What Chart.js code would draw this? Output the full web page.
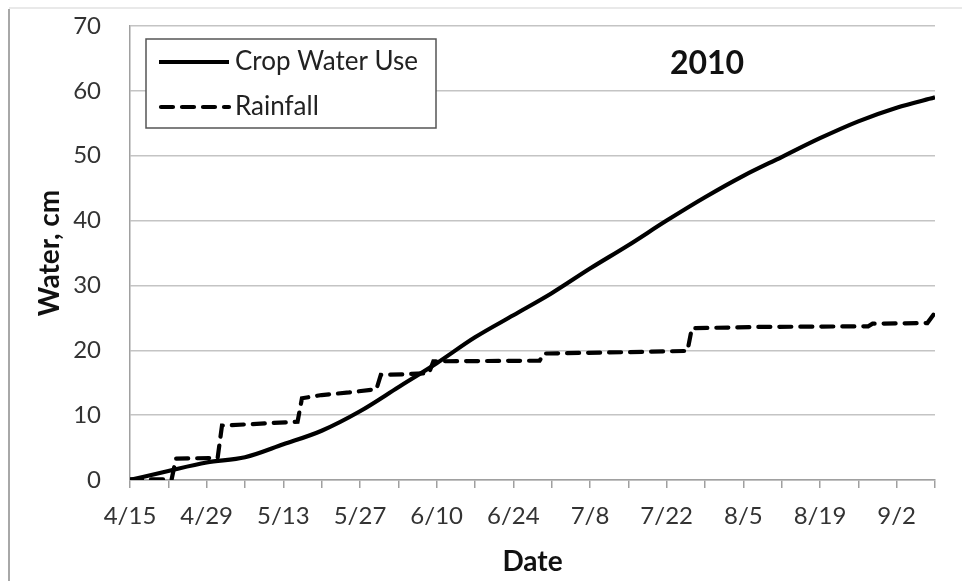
<!DOCTYPE html>
<html>
<head>
<meta charset="utf-8">
<script src="https://cdn.jsdelivr.net/npm/chart.js@4/dist/chart.umd.min.js"></script>
<style>
  html, body { margin: 0; padding: 0; background: #fff; }
  #wrap { position: relative; width: 962px; height: 581px; }
</style>
</head>
<body>
<div id="wrap"><canvas id="c" width="962" height="581"></canvas></div>
<script>
// ---- data (days after 4/15) ----
const dateLabels = ['4/15','4/29','5/13','5/27','6/10','6/24','7/8','7/22','8/5','8/19','9/2'];
const cropDays   = [0, 7, 14, 21, 28, 35, 42, 49, 56, 63, 70, 77, 84, 91, 98, 105, 112, 119, 126, 133, 140, 147];
const cropValues = [0, 1.4, 2.7, 3.5, 5.5, 7.6, 10.6, 14.3, 18.0, 22.0, 25.4, 28.8, 32.6, 36.2, 40.0, 43.6, 46.9, 49.8, 52.7, 55.3, 57.4, 59.0];
const rainDays   = [0, 7.6, 8.4, 16.0, 16.8, 22, 30.6, 31.4, 35, 40, 45.0, 45.8, 50, 54.6, 55.4, 74.8, 75.6, 90, 101.8, 102.6, 115, 134.8, 135.6, 145.6, 147];
const rainValues = [0.1, 0.1, 3.3, 3.4, 8.4, 8.6, 9.0, 12.6, 13.1, 13.5, 14.0, 16.2, 16.3, 16.5, 18.3, 18.4, 19.5, 19.7, 19.9, 23.4, 23.6, 23.7, 24.1, 24.2, 25.8];
const seriesNames = ['Crop Water Use', 'Rainfall'];
const yearLabel = '2010';

const toXY = (xs, ys) => xs.map((x, i) => ({ x: x, y: ys[i] }));
const DASH = [12, 9];

const decor = {
  id: 'decor',
  beforeDraw(chart) {
    const ctx = chart.ctx;
    ctx.save();
    ctx.strokeStyle = '#e2e2e2';
    ctx.lineWidth = 1.5;
    ctx.beginPath(); ctx.moveTo(9, 8); ctx.lineTo(962, 8); ctx.stroke();
    ctx.strokeStyle = '#a8a8a8';
    ctx.lineWidth = 2;
    ctx.beginPath(); ctx.moveTo(9, 9); ctx.lineTo(9, 581); ctx.stroke();
    ctx.restore();
  },
  afterDraw(chart) {
    const ctx = chart.ctx;
    const a = chart.chartArea;
    ctx.save();
    // legend box
    const bx = a.left + 16, by = a.top + 13, bw = 290, bh = 89;
    ctx.fillStyle = '#fff';
    ctx.fillRect(bx, by, bw, bh);
    ctx.strokeStyle = '#555';
    ctx.lineWidth = 1.5;
    ctx.strokeRect(bx, by, bw, bh);
    const rows = [by + 23, by + 68];
    ctx.strokeStyle = '#000';
    ctx.lineWidth = 4.2;
    ctx.lineCap = 'butt';
    ctx.beginPath(); ctx.moveTo(bx + 13, rows[0]); ctx.lineTo(bx + 83, rows[0]); ctx.stroke();
    ctx.lineCap = 'round';
    ctx.setLineDash(DASH);
    ctx.beginPath(); ctx.moveTo(bx + 15, rows[1]); ctx.lineTo(bx + 83, rows[1]); ctx.stroke();
    ctx.setLineDash([]);
    ctx.fillStyle = '#222';
    ctx.font = '26px Lato';
    ctx.textBaseline = 'middle';
    ctx.textAlign = 'left';
    ctx.fillText(seriesNames[0], bx + 89, rows[0]);
    ctx.fillText(seriesNames[1], bx + 89, rows[1]);
    // year
    ctx.font = 'bold 32px Lato';
    ctx.textAlign = 'center';
    ctx.fillStyle = '#111';
    ctx.fillText(yearLabel, 707, a.top + 38);
    ctx.restore();
  }
};

new Chart(document.getElementById('c'), {
  type: 'line',
  data: {
    datasets: [
      {
        label: seriesNames[0],
        data: toXY(cropDays, cropValues),
        borderColor: '#000',
        borderWidth: 4.2,
        pointRadius: 0,
        cubicInterpolationMode: 'monotone',
        fill: false
      },
      {
        label: seriesNames[1],
        data: toXY(rainDays, rainValues),
        borderColor: '#000',
        borderWidth: 4.2,
        borderDash: DASH,
        borderCapStyle: 'round',
        pointRadius: 0,
        tension: 0,
        fill: false
      }
    ]
  },
  options: {
    responsive: false,
    animation: false,
    layout: { padding: { left: 0, right: 27, top: 26, bottom: 0 } },
    plugins: { legend: { display: false }, title: { display: false }, tooltip: { enabled: false } },
    scales: {
      x: {
        type: 'linear',
        min: 0, max: 147,
        afterFit: s => { s.height = 101; },
        afterBuildTicks: s => { s.ticks = []; for (let v = 0; v <= 147; v += 7) s.ticks.push({ value: v }); },
        ticks: {
          autoSkip: false, maxRotation: 0, padding: 14,
          color: '#333',
          font: { family: 'Lato', size: 24 },
          callback: v => (v % 14 === 0 && dateLabels[v / 14] !== undefined) ? dateLabels[v / 14] : ''
        },
        grid: { drawOnChartArea: false, drawTicks: true, tickLength: 8, color: '#a0a0a0', lineWidth: 1.5 },
        border: { color: '#a0a0a0', width: 1.5 },
        title: { display: true, text: 'Date', color: '#111', font: { family: 'Lato', size: 28, weight: 'bold' }, padding: { top: 0, bottom: 2 } }
      },
      y: {
        min: 0, max: 70,
        afterFit: s => { s.width = 130; s.paddingTop = 0; s.paddingBottom = 0; },
        ticks: { stepSize: 10, padding: 29, color: '#333', font: { family: 'Lato', size: 24 } },
        grid: { drawTicks: false, color: '#c4c4c4', lineWidth: 1.5 },
        border: { color: '#a0a0a0', width: 1.5 },
        title: { display: true, text: 'Water, cm', color: '#111', font: { family: 'Lato', size: 28, weight: 'bold' }, padding: { top: 33, bottom: 0 } }
      }
    }
  },
  plugins: [decor]
});
</script>
</body>
</html>
